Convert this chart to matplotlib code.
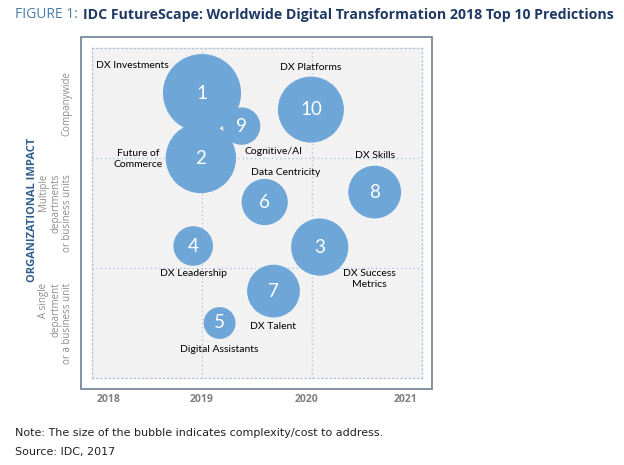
# IDC FutureScape bubble chart: DX 2018 top 10 predictions

import matplotlib.pyplot as plt
from matplotlib.patches import Circle, Rectangle

# Prediction data: number, timing (year), organizational impact (0-3), bubble size
numbers = ['1', '2', '3', '4', '5', '6', '7', '8', '9', '10']
years = [2019.0, 2018.99, 2020.07, 2018.92, 2019.16,
         2019.57, 2019.65, 2020.57, 2019.36, 2019.99]
impact = [2.59, 2.0, 1.19, 1.2, 0.5, 1.6, 0.79, 1.69, 2.29, 2.44]
complexity = [0.355, 0.32, 0.26, 0.18, 0.145, 0.21, 0.24, 0.24, 0.17, 0.30]

# Label text and where it sits
names = ['DX Investments', 'Future of\nCommerce', 'DX Success\nMetrics',
         'DX Leadership', 'Digital Assistants', 'Data Centricity',
         'DX Talent', 'DX Skills', 'Cognitive/AI', 'DX Platforms']
name_x = [2018.37, 2018.42, 2020.52, 2018.92, 2019.16,
          2019.76, 2019.65, 2020.57, 2019.65, 2019.99]
name_y = [2.84, 1.99, 0.90, 0.95, 0.26, 1.87, 0.47, 2.02, 2.06, 2.82]

year_ticks = ['2018', '2019', '2020', '2021']
year_pos = [2018.15, 2019.0, 2019.95, 2020.85]
impact_levels = ['A single\ndepartment\nor a business unit',
                 'Multiple\ndepartments\nor business units',
                 'Companywide']

BUBBLE = '#6fa6d8'
GRID = '#b9c8d8'

fig = plt.figure(figsize=(6.24, 4.65), dpi=100)
W, H = 624, 465

# Outer frame around the chart
fig.patches.append(Rectangle((81 / W, 1 - 389 / H), 351 / W, 352 / H,
                             transform=fig.transFigure, fill=False,
                             edgecolor='#6b7f95', linewidth=1.2))

ax = fig.add_axes([92 / W, 1 - 378 / H, 330 / W, 330 / H])
ax.set_facecolor('#f2f2f2')
ax.set_xlim(2018, 2021)
ax.set_ylim(0, 3)
ax.set_xticks([])
ax.set_yticks([])
for s in ax.spines.values():
    s.set_linestyle((0, (1, 2)))
    s.set_color(GRID)
    s.set_linewidth(1)
for v in [2019, 2020]:
    ax.axvline(v, color=GRID, linestyle=(0, (1, 2)), linewidth=1, zorder=0)
for v in [1, 2]:
    ax.axhline(v, color=GRID, linestyle=(0, (1, 2)), linewidth=1, zorder=0)

# Bubbles
for n, x, y, r in zip(numbers, years, impact, complexity):
    ax.add_patch(Circle((x, y), r, facecolor=BUBBLE, edgecolor='none', zorder=2))
    ax.text(x, y, n, ha='center', va='center', color='white',
            fontsize=13.5, family='Lato', zorder=3)

# Bubble names
for t, x, y in zip(names, name_x, name_y):
    ax.text(x, y, t, ha='center', va='center', fontsize=7.5, family='Lato',
            color='black', linespacing=1.35, zorder=4)

# Year labels under the frame
for t, x in zip(year_ticks, year_pos):
    ax.text(x, -0.2, t, ha='center', va='center', fontsize=7.5,
            family='Open Sans', fontweight='bold', color='#7f7f7f',
            clip_on=False)

# Impact level labels (last line sits next to the frame)
for i, t in enumerate(impact_levels):
    ax.text(-0.058, i + 0.5, t, transform=ax.get_yaxis_transform(),
            rotation=90, ha='right', va='center', fontsize=7,
            family='Open Sans', color='#8c8c8c', linespacing=1.1)
fig.text(33 / W, 1 - 210 / H, 'ORGANIZATIONAL IMPACT', rotation=90,
         ha='center', va='center', fontsize=8, family='Open Sans',
         fontweight='bold', color='#2f5f8f')

# Title
fig.text(15 / W, 1 - 15 / H, 'FIGURE 1:', ha='left', va='center',
         fontsize=10, family='Open Sans', color='#4a7ca8')
fig.text(83 / W, 1 - 15 / H,
         'IDC FutureScape: Worldwide Digital Transformation 2018 Top 10 Predictions',
         ha='left', va='center', fontsize=10.15, family='Open Sans',
         fontweight='bold', color='#1f3864')

# Notes
fig.text(15 / W, 1 - 433 / H,
         'Note: The size of the bubble indicates complexity/cost to address.',
         ha='left', va='center', fontsize=8, color='#222222')
fig.text(15 / W, 1 - 452 / H, 'Source: IDC, 2017',
         ha='left', va='center', fontsize=8, color='#222222')

fig.savefig('out.png', dpi=100)
